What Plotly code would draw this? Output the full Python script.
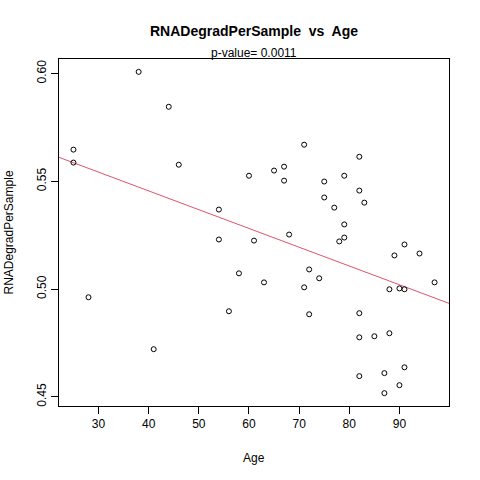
import numpy as np
import plotly.graph_objects as go

# values
age = [25, 25, 28, 38, 41, 44, 46, 54, 54, 56, 58, 60, 61, 63, 65, 67, 67, 68,
       71, 71, 72, 72, 74, 75, 75, 77, 78, 79, 79, 79, 82, 82, 82, 82, 82, 83,
       85, 87, 87, 88, 88, 89, 90, 90, 91, 91, 91, 94, 97]
rna_degrad = [0.5647, 0.5587, 0.4962, 0.6008, 0.4721, 0.5846, 0.5577, 0.5369,
              0.5230, 0.4897, 0.5073, 0.5526, 0.5225, 0.5031, 0.5550, 0.5568,
              0.5503, 0.5253, 0.5670, 0.5008, 0.5091, 0.4883, 0.5050, 0.5499,
              0.5425, 0.5378, 0.5221, 0.5526, 0.5300, 0.5239, 0.5614, 0.5457,
              0.4888, 0.4776, 0.4596, 0.5401, 0.4781, 0.4610, 0.4517, 0.4999,
              0.4795, 0.5156, 0.5003, 0.4554, 0.5207, 0.4999, 0.4637, 0.5165,
              0.5031]
p_label = "p-value= 0.0011"
x_ticks = [30, 40, 50, 60, 70, 80, 90]
y_ticks = [0.45, 0.50, 0.55, 0.60]

FONT = "Liberation Sans, Arial, sans-serif"


def r_range(v):
    # R pads the data range by 4% on each side
    lo, hi = min(v), max(v)
    pad = (hi - lo) * 0.04
    return [lo - pad, hi + pad]


x_range = r_range(age)
y_range = r_range(rna_degrad)

slope, intercept = np.polyfit(age, rna_degrad, 1)
line_x = np.array(x_range)
line_y = intercept + slope * line_x

fig = go.Figure()
fig.add_trace(go.Scatter(x=line_x, y=line_y, mode="lines",
                         line=dict(color="#DF536B", width=1), hoverinfo="skip"))
fig.add_trace(go.Scatter(x=age, y=rna_degrad, mode="markers",
                         marker=dict(symbol="circle-open", size=5, color="black",
                                     line=dict(width=1, color="black"))))

axis_common = dict(showgrid=False, zeroline=False, showline=True, mirror=True,
                   linecolor="black", linewidth=1, ticks="outside", ticklen=7,
                   tickcolor="black", automargin=False,
                   tickfont=dict(family=FONT, size=12, color="black"))

fig.update_xaxes(range=x_range, tickvals=x_ticks, **axis_common)
fig.update_yaxes(range=y_range, tickvals=y_ticks, ticktext=[f"{v:.2f}" for v in y_ticks],
                 tickangle=-90, **axis_common)

text_font = dict(family=FONT, size=12, color="black")
fig.add_annotation(text="<b>RNADegradPerSample  vs  Age</b>", xref="paper", yref="paper",
                   x=0.5, y=1, yshift=28, showarrow=False, yanchor="middle",
                   font=dict(family=FONT, size=14, color="black"))
fig.add_annotation(text=p_label, xref="paper", yref="paper", x=0.5, y=1, yshift=6,
                   showarrow=False, yanchor="middle", font=text_font)
fig.add_annotation(text="Age", xref="paper", yref="paper", x=0.5, y=0, yshift=-52,
                   showarrow=False, yanchor="middle", font=text_font)
fig.add_annotation(text="RNADegradPerSample", xref="paper", yref="paper", x=0, y=0.5,
                   xshift=-51, textangle=-90, showarrow=False, xanchor="center",
                   font=text_font)

fig.update_layout(width=480, height=480, showlegend=False,
                  plot_bgcolor="white", paper_bgcolor="white",
                  margin=dict(l=59, r=31, t=59, b=74))

# drop the browser's default 8px body margin so the figure sits at the page corner
fig.write_html("out.html", config={"displayModeBar": False},
               post_script="document.body.style.margin = '0';")
